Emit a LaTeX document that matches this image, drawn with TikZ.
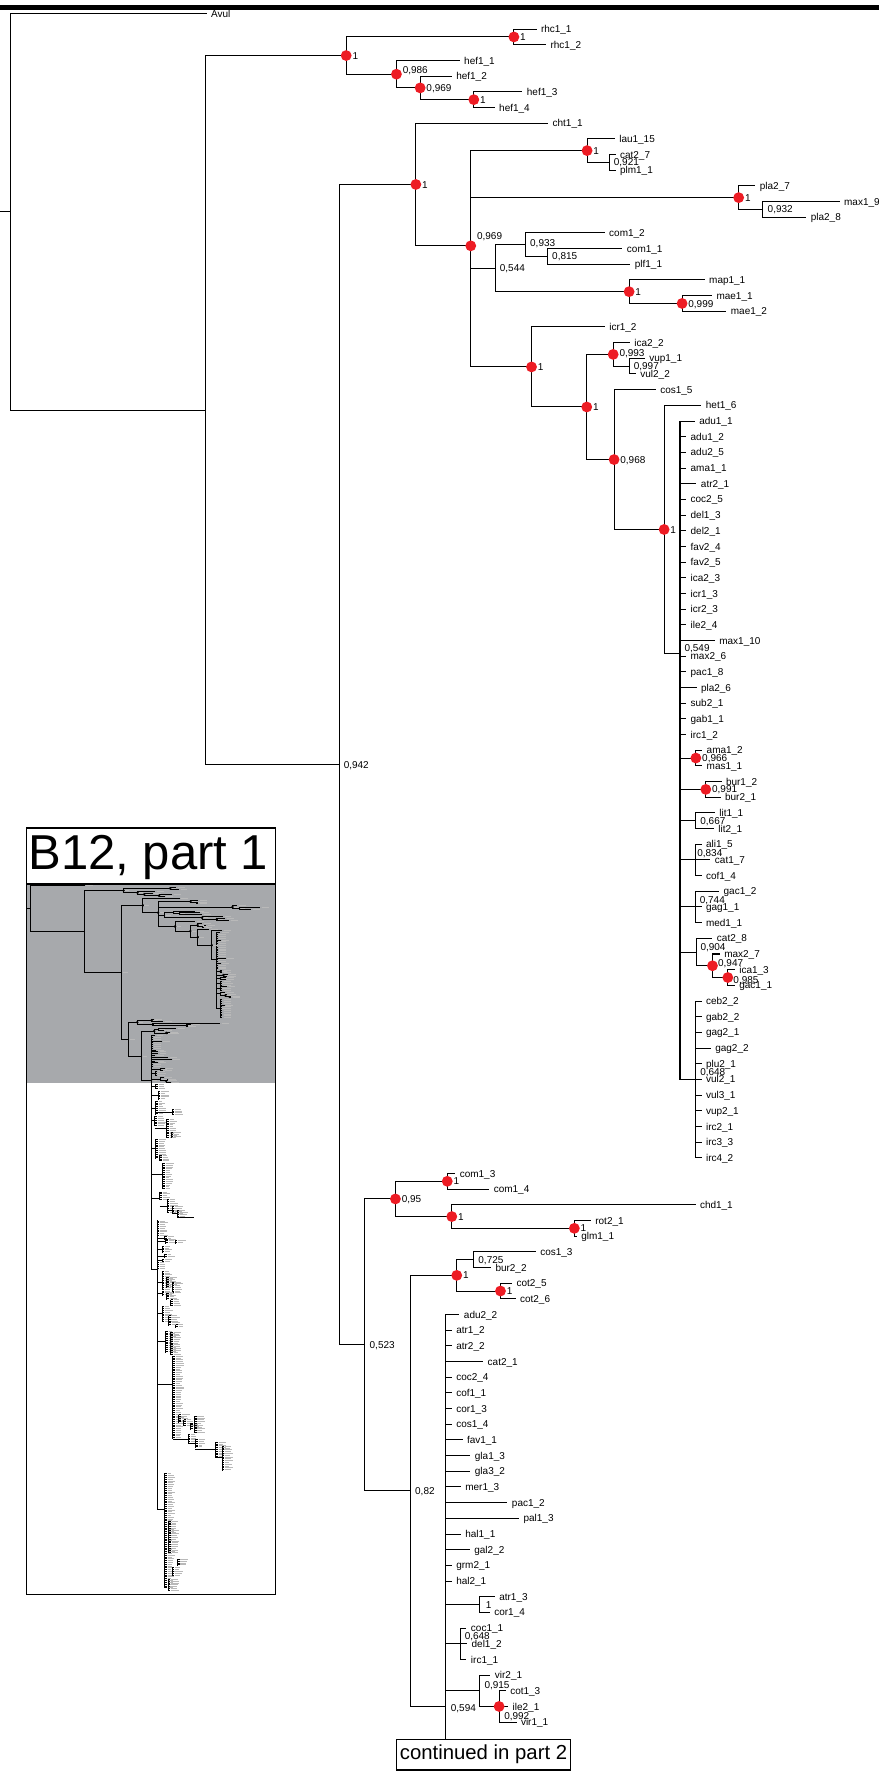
\documentclass[tikz,border=0pt]{standalone}
\usepackage{fontspec}
\setmainfont{Liberation Sans}
\usetikzlibrary{calc}
\definecolor{dotred}{RGB}{237,28,36}
\definecolor{insetgrey}{RGB}{167,169,172}
\newif\ifmini
\def\pfx{}
\tikzset{
  br/.style={line width=0.45pt},
  thk/.style={line width=0.85pt},
  leaf/.style={anchor=west, inner xsep=1.8pt, inner ysep=0pt, font=\fontsize{4.42}{5}\selectfont, text height=3.17pt, text depth=0pt},
  sup/.style={anchor=west, inner xsep=0.3pt, inner ysep=0pt, font=\fontsize{4.42}{5}\selectfont, text height=3.17pt, text depth=0pt},
  mtext/.style={line width=0.35pt, gray!55},
  mbr/.style={line width=0.35pt},
  frame/.style={line width=0.6pt},
}
\newcommand\ND[3]{\coordinate (N\pfx#1) at (#2,#3);}
\newcommand\ED[2]{\draw[br] (N\pfx#1) |- (N\pfx#2);}
\newcommand\LF[4]{\ifmini
  \coordinate (L\pfx#1) at (#3,#1);
  \draw[br] (N\pfx#2) |- (L\pfx#1);
  \draw[mtext] ($(L\pfx#1)+(5,0)$) -- ++(22,0);
 \else
  \node[leaf] (L#1) at (#3,#1) {#4};
  \draw[br] (N#2) |- (L#1.west);
 \fi}
\newcommand\RD[1]{\ifmini\fill (N\pfx#1) circle (0.6pt);\else\fill[dotred] (N#1) circle (2.4pt);\fi}
\newcommand\SP[4]{\ifmini\draw[mtext] ($(N\pfx#1)+(5,0)$) -- ++(14,0);\else
  \node[sup] (S#1) at ([xshift=#3pt,yshift=#4pt]N#1) {#2};\fi}
\newcommand\mclade[4]{\draw[mbr] (#1,#2) -- (#1,#3);
 \pgfmathtruncatemacro\nn{(#3-#2)/1.6}
 \foreach \k in {0,...,\nn}{\pgfmathsetmacro\yy{#2+\k*1.6}\pgfmathsetmacro\ll{3+4*rnd}
   \draw[mbr] (#1,\yy) -- ++(#4,0);
   \draw[mtext] (#1+#4+0.8,\yy) -- ++(\ll,0);}}
\newcommand\mhor[3]{\draw[mbr] (#1,#3) -- (#2,#3);}

\newcommand\TREE{%
\ND{R}{9.7}{12.655}
\coordinate (R0\pfx) at (0,12.655);
\ND{A}{182}{25.31}
\ND{T1}{306.5}{2.6875}
\ND{RH}{455}{1.5}
\ND{H986}{351}{3.875}
\ND{H969}{372}{4.75}
\ND{H34}{419.5}{5.5}
\ND{N942}{300.8}{47.93}
\ND{C1}{368.2}{10.91}
\ND{N969}{416.8}{14.825}
\ND{LAU}{519.8}{8.75}
\ND{N921}{539.3}{9.5}
\ND{PLA}{654}{11.75}
\ND{N932}{675.5}{12.5}
\ND{N544}{438.4}{16.25}
\ND{N933}{465.2}{14.75}
\ND{N815}{484.7}{15.5}
\ND{MAP}{557}{17.75}
\ND{N999}{603.9}{18.5}
\ND{ICR}{470.6}{22.55}
\ND{N519}{519.5}{25.105}
\ND{N993}{542.9}{21.75}
\ND{N997}{557}{22.5}
\ND{N968}{543.7}{28.46}
\ND{N588}{588}{32.92}
\ND{N549}{601.9}{40.83}
\ND{N966}{616.1}{47.5}
\ND{N991}{624.9}{49.5}
\ND{N667}{616.1}{51.5}
\ND{N834}{615.8}{54}
\ND{N744}{615.8}{57}
\ND{N904}{616.4}{59.875}
\ND{N947}{630.8}{60.75}
\ND{N985}{644.4}{61.5}
\ND{N648a}{615.8}{68}
\ND{N523}{322.5}{84.94}
\ND{N95}{350.1}{75.625}
\ND{COM}{396}{74.5}
\ND{CHD}{400}{76.75}
\ND{ROT}{508.5}{77.5}
\ND{N82}{363.4}{94.25}
\ND{CB}{404.4}{80.5}
\ND{N725}{419.2}{79.5}
\ND{COT}{443.1}{81.5}
\ND{N594}{394.4}{108}
\ND{ATR}{424.8}{101.5}
\ND{N648b}{407.7}{104}
\ND{N915}{424.8}{107}
\ND{N992}{441.9}{108}
\ND{E}{394.4}{110.1}
\draw[br] (R0\pfx) -- (N\pfx R);
\ED{R}{A} \ED{A}{T1} \ED{A}{N942} \ED{T1}{RH} \ED{T1}{H986} \ED{H986}{H969} \ED{H969}{H34}
\ED{N942}{C1} \ED{N942}{N523} \ED{C1}{N969} \ED{N969}{LAU} \ED{N969}{PLA} \ED{N969}{N544} \ED{N969}{ICR}
\ED{LAU}{N921} \ED{PLA}{N932} \ED{N544}{N933} \ED{N544}{MAP} \ED{N933}{N815} \ED{MAP}{N999}
\ED{ICR}{N519} \ED{N519}{N993} \ED{N519}{N968} \ED{N993}{N997} \ED{N968}{N588} \ED{N588}{N549}
\ED{N549}{N966} \ED{N549}{N991} \ED{N549}{N667} \ED{N549}{N834} \ED{N549}{N744} \ED{N549}{N904} \ED{N549}{N648a}
\ED{N904}{N947} \ED{N947}{N985}
\ED{N523}{N95} \ED{N523}{N82} \ED{N95}{COM} \ED{N95}{CHD} \ED{CHD}{ROT}
\ED{N82}{CB} \ED{N82}{N594} \ED{CB}{N725} \ED{CB}{COT}
\ED{N594}{ATR} \ED{N594}{N648b} \ED{N594}{N915} \ED{N915}{N992} \ED{N594}{E}
\LF{0}{R}{183}{Avul}
\LF{1}{RH}{475}{rhc1\_1}
\LF{2}{RH}{483.5}{rhc1\_2}
\LF{3}{H986}{407}{hef1\_1}
\LF{4}{H969}{400}{hef1\_2}
\LF{5}{H34}{462.5}{hef1\_3}
\LF{6}{H34}{438}{hef1\_4}
\LF{7}{C1}{485.3}{cht1\_1}
\LF{8}{LAU}{544.3}{lau1\_15}
\LF{9}{N921}{545}{cat2\_7}
\LF{10}{N921}{545}{plm1\_1}
\LF{11}{PLA}{668.8}{pla2\_7}
\LF{12}{N932}{743.4}{max1\_9}
\LF{13}{N932}{713.9}{pla2\_8}
\LF{14}{N933}{535.4}{com1\_2}
\LF{15}{N815}{551.1}{com1\_1}
\LF{16}{N815}{558.1}{plf1\_1}
\LF{17}{MAP}{623.9}{map1\_1}
\LF{18}{N999}{630.4}{mae1\_1}
\LF{19}{N999}{643.1}{mae1\_2}
\LF{20}{ICR}{535.5}{icr1\_2}
\LF{21}{N993}{557.6}{ica2\_2}
\LF{22}{N997}{570.9}{vup1\_1}
\LF{23}{N997}{563}{vul2\_2}
\LF{24}{N968}{580.6}{cos1\_5}
\LF{25}{N588}{621}{het1\_6}
\LF{26}{N549}{615.1}{adu1\_1}
\LF{27}{N549}{607.5}{adu1\_2}
\LF{28}{N549}{607.5}{adu2\_5}
\LF{29}{N549}{607.5}{ama1\_1}
\LF{30}{N549}{616.6}{atr2\_1}
\LF{31}{N549}{607.5}{coc2\_5}
\LF{32}{N549}{607.5}{del1\_3}
\LF{33}{N549}{607.5}{del2\_1}
\LF{34}{N549}{607.5}{fav2\_4}
\LF{35}{N549}{607.5}{fav2\_5}
\LF{36}{N549}{607.5}{ica2\_3}
\LF{37}{N549}{607.5}{icr1\_3}
\LF{38}{N549}{607.5}{icr2\_3}
\LF{39}{N549}{607.5}{ile2\_4}
\LF{40}{N549}{632.9}{max1\_10}
\LF{41}{N549}{607.5}{max2\_6}
\LF{42}{N549}{607.5}{pac1\_8}
\LF{43}{N549}{616.7}{pla2\_6}
\LF{44}{N549}{607.5}{sub2\_1}
\LF{45}{N549}{607.5}{gab1\_1}
\LF{46}{N549}{607.5}{irc1\_2}
\LF{47}{N966}{621.7}{ama1\_2}
\LF{48}{N966}{621.7}{mas1\_1}
\LF{49}{N991}{638.8}{bur1\_2}
\LF{50}{N991}{638}{bur2\_1}
\LF{51}{N667}{632.9}{lit1\_1}
\LF{52}{N667}{632}{lit2\_1}
\LF{53}{N834}{621.1}{ali1\_5}
\LF{54}{N834}{629}{cat1\_7}
\LF{55}{N834}{621.1}{cof1\_4}
\LF{56}{N744}{636.7}{gac1\_2}
\LF{57}{N744}{621.1}{gag1\_1}
\LF{58}{N744}{621.1}{med1\_1}
\LF{59}{N904}{630.8}{cat2\_8}
\LF{60}{N947}{637.3}{max2\_7}
\LF{61}{N985}{650.6}{ica1\_3}
\LF{62}{N985}{650.6}{gac1\_1}
\LF{63}{N648a}{621.1}{ceb2\_2}
\LF{64}{N648a}{621.1}{gab2\_2}
\LF{65}{N648a}{621.1}{gag2\_1}
\LF{66}{N648a}{629.3}{gag2\_2}
\LF{67}{N648a}{621.1}{plu2\_1}
\LF{68}{N648a}{621.1}{vul2\_1}
\LF{69}{N648a}{621.1}{vul3\_1}
\LF{70}{N648a}{621.1}{vup2\_1}
\LF{71}{N648a}{621.1}{irc2\_1}
\LF{72}{N648a}{621.1}{irc3\_3}
\LF{73}{N648a}{621.1}{irc4\_2}
\LF{74}{COM}{403.1}{com1\_3}
\LF{75}{COM}{433.2}{com1\_4}
\LF{76}{CHD}{615.8}{chd1\_1}
\LF{77}{ROT}{523.1}{rot2\_1}
\LF{78}{ROT}{510.7}{glm1\_1}
\LF{79}{N725}{474.4}{cos1\_3}
\LF{80}{N725}{434.7}{bur2\_2}
\LF{81}{COT}{453.4}{cot2\_5}
\LF{82}{COT}{456.5}{cot2\_6}
\LF{83}{N594}{406.8}{adu2\_2}
\LF{84}{N594}{400}{atr1\_2}
\LF{85}{N594}{400}{atr2\_2}
\LF{86}{N594}{427.8}{cat2\_1}
\LF{87}{N594}{400}{coc2\_4}
\LF{88}{N594}{400}{cof1\_1}
\LF{89}{N594}{400}{cor1\_3}
\LF{90}{N594}{400}{cos1\_4}
\LF{91}{N594}{409.5}{fav1\_1}
\LF{92}{N594}{416.5}{gla1\_3}
\LF{93}{N594}{416.5}{gla3\_2}
\LF{94}{N594}{408}{mer1\_3}
\LF{95}{N594}{449.3}{pac1\_2}
\LF{96}{N594}{459.6}{pal1\_3}
\LF{97}{N594}{408}{hal1\_1}
\LF{98}{N594}{416}{gal2\_2}
\LF{99}{N594}{400}{grm2\_1}
\LF{100}{N594}{400}{hal2\_1}
\LF{101}{ATR}{438.1}{atr1\_3}
\LF{102}{ATR}{433.7}{cor1\_4}
\LF{103}{N648b}{413}{coc1\_1}
\LF{104}{N648b}{413.6}{del1\_2}
\LF{105}{N648b}{413}{irc1\_1}
\LF{106}{N915}{434.2}{vir2\_1}
\LF{107}{N992}{447.8}{cot1\_3}
\LF{108}{N992}{449.9}{ile2\_1}
\LF{109}{N992}{457.3}{vir1\_1}
\ifmini\else
\draw[thk] (NN549 |- L26.west) -- (NN549 |- NN648a);
\draw[thk] (NN648a |- L63.west) -- (NN648a |- L73.west);
\draw[thk] (NN594 |- L83.west) -- (NE);
\fi
\RD{T1}\RD{RH}\RD{H986}\RD{H969}\RD{H34}\RD{C1}\RD{N969}\RD{LAU}\RD{PLA}\RD{MAP}
\RD{N999}\RD{ICR}\RD{N519}\RD{N993}\RD{N968}\RD{N588}\RD{N966}\RD{N991}\RD{N947}\RD{N985}
\RD{N95}\RD{COM}\RD{CHD}\RD{ROT}\RD{CB}\RD{COT}\RD{N992}
\SP{T1}{1}{2.3}{0} \SP{RH}{1}{2.3}{0} \SP{H986}{0,986}{2.3}{2} \SP{H969}{0,969}{2.3}{0}
\SP{H34}{1}{2.3}{0} \SP{C1}{1}{2.3}{0} \SP{N969}{0,969}{2.3}{4.3} \SP{LAU}{1}{2.3}{0}
\SP{N921}{0,921}{1.6}{0} \SP{PLA}{1}{2.3}{0} \SP{N932}{0,932}{1.6}{0} \SP{N544}{0,544}{1.6}{0}
\SP{N933}{0,933}{1.6}{0.9} \SP{N815}{0,815}{1.6}{0} \SP{MAP}{1}{2.3}{0} \SP{N999}{0,999}{2.3}{0}
\SP{ICR}{1}{2.3}{0} \SP{N519}{1}{2.3}{0} \SP{N993}{0,993}{2.3}{0.6} \SP{N997}{0,997}{1.6}{0}
\SP{N968}{0,968}{2.3}{0} \SP{N588}{1}{2.3}{0} \SP{N549}{0,549}{1.6}{2.65} \SP{N966}{0,966}{2.3}{0}
\SP{N991}{0,991}{2.3}{0} \SP{N667}{0,667}{1.5}{0} \SP{N834}{0,834}{0.3}{3} \SP{N744}{0,744}{1.4}{3.2}
\SP{N904}{0,904}{1.4}{2.2} \SP{N947}{0,947}{2.0}{1.2} \SP{N985}{0,985}{2.0}{-0.9} \SP{N648a}{0,648}{1.6}{3.3}
\SP{N942}{0,942}{1.3}{0} \SP{N523}{0,523}{1.9}{0} \SP{N95}{0,95}{2.3}{0} \SP{COM}{1}{2.3}{0}
\SP{CHD}{1}{2.3}{0} \SP{ROT}{1}{2.3}{0} \SP{N82}{0,82}{1.6}{0} \SP{CB}{1}{2.3}{0}
\SP{N725}{0,725}{1.7}{0} \SP{COT}{1}{2.3}{0} \SP{N594}{0,594}{1.9}{-0.5} \SP{ATR}{1}{2.2}{0}
\SP{N648b}{0,648}{1.4}{3.5} \SP{N915}{0,915}{1.6}{2.4} \SP{N992}{0,992}{1.8}{-4.2}
}

\begin{document}
\begin{tikzpicture}[x=0.5pt,y=-0.5pt]
\useasboundingbox (0,0) rectangle (778,1568);
\fill (0,4.4) rectangle (778,8.9);
% inset
\fill[insetgrey] (23.6,782.7) rectangle (244,958.9);
\begin{scope}[xshift=12.1625pt, yshift=-392.1pt, x=0.13875pt, y=-0.79945pt, br/.style={line width=0.35pt}]
  \minitrue\def\pfx{m}
  \TREE
\end{scope}
\pgfmathsetseed{12}
\draw[mbr] (133.8,960.2) -- (133.8,1123.5);
\mhor{133.8}{137.6}{962}\mclade{137.6}{960.5}{964}{2}
\mhor{133.8}{140}{970}\mclade{140}{966.2}{973.6}{2}
\mhor{133.8}{137.6}{981}\mclade{137.6}{975}{987}{2}
\mhor{137.6}{152.4}{984.5}\mclade{152.4}{982}{987}{2}
\mhor{133.8}{137}{992}\mclade{137}{988.5}{996.6}{2}
\mhor{137}{147.4}{999}\mclade{147.4}{991}{1007.5}{2}\mclade{151.5}{1003}{1007.5}{2}
\mhor{133.8}{137.6}{1017}\mclade{137.6}{1009}{1026}{2}\mclade{141.5}{1023}{1028}{2}
\mhor{133.8}{144.1}{1039.4}\mclade{144.1}{1030}{1053}{2}
\mhor{133.8}{141.5}{1061.2}\mclade{141.5}{1055.3}{1062}{2}
\mhor{141.5}{148}{1068}\mclade{148}{1062}{1074}{2}
\mhor{148}{152.4}{1071.5}\mclade{152.4}{1068}{1075}{2}
\mhor{152.4}{156.8}{1074.5}\mclade{156.8}{1072}{1077}{2}
\mhor{156.8}{172}{1078}
\mhor{133.8}{139.1}{1123.5}
\draw[mbr] (139.1,1080.4) -- (139.1,1336.5);
\mclade{139.1}{1081}{1095}{2}
\mhor{139.1}{145.6}{1096}\mclade{145.6}{1094.6}{1097.6}{2}
\mhor{139.1}{146.5}{1099}\mclade{146.5}{1097}{1101}{2}\mclade{155}{1098}{1101}{2}
\mhor{139.1}{143.6}{1106}\mclade{143.6}{1103.4}{1109.3}{2}
\mhor{139.1}{145.6}{1112}\mclade{145.6}{1110.8}{1113.7}{2}
\mhor{139.1}{143.6}{1116}\mclade{143.6}{1115}{1117}{2}
\mclade{139.1}{1118}{1124}{2}
\mhor{139.1}{143.6}{1135}\mclade{143.6}{1125.5}{1142}{2}\mclade{147.4}{1131}{1140}{2}\mclade{152.4}{1135}{1145}{2}
\mhor{139.1}{143.6}{1145}\mclade{143.6}{1143}{1147}{2}\mclade{147.4}{1145}{1150.6}{2}\mclade{151}{1150.6}{1156.5}{2}
\mhor{139.1}{143.6}{1163}\mclade{143.6}{1157}{1170}{2}\mclade{149.5}{1164.8}{1174.2}{2}\mclade{155.4}{1172.7}{1175.7}{2}
\mhor{139.1}{146.5}{1188}\mclade{146.5}{1178.6}{1197.8}{2}\mclade{150.9}{1179.5}{1199}{2}
\mhor{139.1}{153}{1225.8}\mclade{153}{1200.8}{1274}{2}
\mclade{158.3}{1252.4}{1260}{2}\mclade{162.7}{1256.8}{1262.7}{2}\mclade{168.6}{1259.8}{1265.7}{2}\mclade{172}{1253.8}{1268.6}{2}
\mhor{153}{166.6}{1274}\mclade{166.6}{1270}{1278}{2}
\mhor{166.6}{173}{1278}\mclade{173}{1274.5}{1281.9}{2}
\mhor{173}{190.8}{1283}\mclade{190.8}{1276.9}{1290.7}{2}
\mhor{190.8}{196.7}{1290}\mclade{196.7}{1280.4}{1302.5}{2}
\mhor{139.1}{145.6}{1336.5}\mclade{145.6}{1304.9}{1405.8}{2}
\mclade{149.5}{1346.8}{1374.9}{2}\mclade{157}{1380.7}{1386.6}{2}\mclade{152.4}{1388}{1395.4}{2}\mclade{148.9}{1398.4}{1409}{2}
\draw[frame] (23.6,733) rectangle (244,1411.7);
\draw[frame] (23.6,782.7) -- (244,782.7);
\node[font=\fontsize{21.7}{24}\selectfont, anchor=base, inner sep=0pt] (title) at (131.3,770) {B12, part 1};
% main tree
\begin{scope}[yshift=-5.95pt, y=-6.9395pt]
  \minifalse\def\pfx{}
  \TREE
\end{scope}
\node[draw, frame, minimum width=77.15pt, minimum height=13.5pt, inner sep=0pt, font=\fontsize{9}{10}\selectfont] (cont) at (428.1,1553.5) {continued in part 2};
\end{tikzpicture}
\end{document}
